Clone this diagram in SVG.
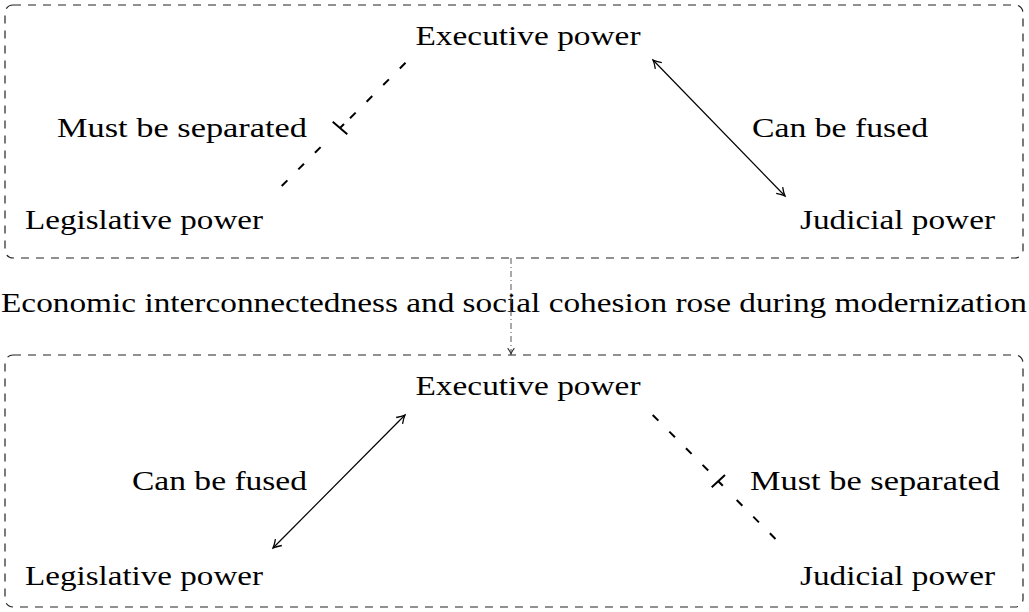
<svg xmlns="http://www.w3.org/2000/svg" width="1029" height="612" viewBox="0 0 1029 612">
<style>
text{font-family:"Liberation Serif","DejaVu Serif",serif;font-size:28px;fill:#000}
.box{fill:none;stroke:#222;stroke-width:1.2;stroke-dasharray:8 7}
.sep{stroke:#000;stroke-width:2;stroke-dasharray:8 15.5;fill:none}
.fuse{stroke:#000;stroke-width:1.2;fill:none;marker-start:url(#ah);marker-end:url(#ah)}
.tick{stroke:#000;stroke-width:2;fill:none}
</style>
<defs>
<marker id="ah" viewBox="-10 -6 12 12" markerWidth="12" markerHeight="12" refX="0" refY="0" orient="auto-start-reverse" markerUnits="userSpaceOnUse">
<path d="M-8,-4.5 Q-3,-1 0,0 Q-3,1 -8,4.5" fill="none" stroke="#000" stroke-width="1.3"/>
</marker>
<marker id="ah2" viewBox="-10 -6 12 12" markerWidth="10" markerHeight="10" refX="0" refY="0" orient="auto" markerUnits="userSpaceOnUse">
<path d="M-7,-4 Q-3,-1 0,0 Q-3,1 -7,4" fill="none" stroke="#333" stroke-width="1.3"/>
</marker>
</defs>
<g id="top-box">
<rect class="box" x="5" y="5" width="1018" height="253" rx="8"/>
</g>
<g id="bottom-box">
<rect class="box" x="5" y="355" width="1018" height="252" rx="8"/>
</g>
<g id="top-exec"><text x="528" y="45" text-anchor="middle" textLength="225" lengthAdjust="spacingAndGlyphs">Executive power</text></g>
<g id="top-leg"><text x="25" y="229" textLength="238" lengthAdjust="spacingAndGlyphs">Legislative power</text></g>
<g id="top-jud"><text x="800" y="229" textLength="195" lengthAdjust="spacingAndGlyphs">Judicial power</text></g>
<g id="bot-exec"><text x="528" y="395" text-anchor="middle" textLength="225" lengthAdjust="spacingAndGlyphs">Executive power</text></g>
<g id="bot-leg"><text x="25" y="585" textLength="238" lengthAdjust="spacingAndGlyphs">Legislative power</text></g>
<g id="bot-jud"><text x="800" y="585" textLength="195" lengthAdjust="spacingAndGlyphs">Judicial power</text></g>
<g id="middle-label"><text x="514" y="312" text-anchor="middle" textLength="1026" lengthAdjust="spacingAndGlyphs">Economic interconnectedness and social cohesion rose during modernization</text></g>
<g id="connectors">
<line class="sep" x1="281.7" y1="186" x2="321" y2="146.7"/>
<path class="tick" d="M332.7,121.7 L347.3,134.3 M340,128 L344,124"/>
<line class="sep" x1="350" y1="118.3" x2="407" y2="61.3"/>
<text x="57" y="137" textLength="250" lengthAdjust="spacingAndGlyphs">Must be separated</text>
<line class="fuse" x1="653" y1="60" x2="785" y2="196"/>
<text x="752" y="137" textLength="176" lengthAdjust="spacingAndGlyphs">Can be fused</text>
<line class="fuse" x1="273" y1="548" x2="405" y2="415"/>
<text x="132" y="490" textLength="175" lengthAdjust="spacingAndGlyphs">Can be fused</text>
<line class="sep" x1="652.7" y1="415" x2="708.5" y2="470.8"/>
<path class="tick" d="M711.7,487.3 L725,475 M718.3,481.2 L722.8,485.7"/>
<line class="sep" x1="736.7" y1="500" x2="776" y2="539.5"/>
<text x="750" y="490" textLength="250" lengthAdjust="spacingAndGlyphs">Must be separated</text>
<line x1="511" y1="258" x2="511" y2="354" stroke="#555" stroke-width="1" stroke-dasharray="6 3 1 3" marker-end="url(#ah2)"/>
</g>
</svg>
